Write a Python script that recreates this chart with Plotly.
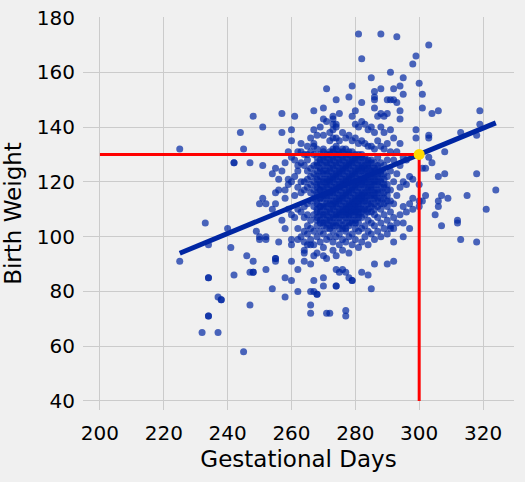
import numpy as np
import plotly.graph_objects as go

outer_points = [
    (225, 132), (225, 91), (233, 105), (234, 97), (234, 85), (234, 85), (234, 71), (234, 71),
    (232, 65), (237, 65), (237, 78), (238, 77), (238, 77), (240, 103), (241, 96), (242, 86),
    (245, 58), (247, 75), (244, 138), (245, 132), (248, 144), (251, 140), (242, 127), (242, 127),
    (247, 127), (251, 126), (246, 93), (248, 91), (247, 87), (248, 87), (248, 87), (252, 88),
    (249, 102), (250, 99), (250, 100), (252, 100), (252, 99), (254, 81), (258, 78), (255, 92),
    (255, 91), (258, 85), (260, 84), (262, 80), (266, 75), (266, 72), (271, 72), (268, 79),
    (267, 80), (251, 114), (250, 112), (252, 112), (255, 112), (254, 110), (255, 116), (256, 117),
    (258, 117), (259, 119), (255, 125), (254, 123), (262, 126), (261, 122),
    (257, 145), (261, 144), (257, 138), (260, 139), (260, 135), (259, 131), (262, 131), (263, 131),
    (267, 146), (271, 154), (274, 150), (270, 143), (273, 143), (273, 141), (274, 140), (273, 139),
    (274, 136), (272, 135), (267, 133), (268, 132), (270, 132), (273, 132), (265, 130), (267, 130),
]

upper_points = [
    (281, 174), (288, 174), (293, 173), (303, 170), (299, 166), (298, 163), (282, 165), (291, 160),
    (285, 158), (295, 158), (300, 156), (279, 155), (294, 155), (292, 154), (286, 153), (286, 151),
    (286, 150), (288, 154), (295, 152), (301, 152), (282, 149), (290, 150), (291, 150),
    (292, 150), (293, 149), (286, 147), (294, 146), (301, 147), (306, 146), (304, 145), (319, 146),
    (288, 145), (290, 145), (289, 144), (280, 146), (294, 143), (319, 141), (318, 137), (313, 138),
    (308, 131), (299, 139), (299, 136), (303, 137), (303, 136), (303, 129), (304, 127),
]

right_points = [
    (318, 123), (324, 117), (321, 110), (318, 98), (313, 99), (312, 106), (312, 105), (315, 115),
    (307, 115), (309, 114), (306, 113), (306, 111), (305, 108), (307, 104), (306, 122), (308, 123),
    (302, 115), (300, 113), (301, 113), (300, 111), (301, 125), (302, 125), (300, 119), (298, 114),
    (297, 103), (295, 100), (292, 103), (291, 103), (295, 105), (292, 98), (292, 91), (290, 90),
    (286, 90), (285, 81), (282, 87), (284, 86), (274, 82), (277, 73), (277, 71), (272, 72),
    (276, 88), (277, 87), (275, 87), (279, 84), (274, 88),
]

lower_points = [
    (260, 91), (262, 88), (264, 94), (264, 91), (266, 90), (266, 80), (267, 84), (268, 79),
    (270, 85), (270, 82), (274, 82), (278, 85), (279, 84), (255, 92), (260, 97), (262, 99),
    (264, 95), (265, 97), (266, 97), (267, 93), (268, 94), (270, 93), (271, 92), (273, 95),
]

# dense middle, one column of weights per gestational day
core_columns = [
    (256, [98, 121]),
    (257, [106, 124]),
    (258, [103, 114, 127]),
    (259, [110, 121]),
    (260, [99, 108, 120, 129]),
    (261, [107, 115, 128]),
    (262, [103, 110, 118, 124]),
    (263, [100, 109, 116, 120, 127, 134]),
    (264, [98, 102, 107, 111, 117, 120, 126, 130]),
    (265, [101, 104, 108, 112, 118, 121, 124, 128, 133]),
    (266, [99, 103, 106, 113, 116, 119, 122, 125, 131, 136]),
    (267, [97, 102, 108, 111, 114, 117, 120, 123, 126, 134, 139]),
    (268, [100, 104, 107, 110, 113, 116, 118, 121, 124, 127, 137]),
    (269, [98, 102, 106, 109, 111, 114, 117, 119, 122, 125, 128, 140]),
    (270, [96, 101, 105, 108, 110, 112, 115, 118, 120, 123, 126, 129, 137, 147]),
    (271, [99, 103, 106, 109, 112, 114, 116, 119, 121, 124, 127, 130, 142]),
    (272, [100, 104, 107, 110, 113, 115, 117, 120, 122, 125, 128, 131, 138]),
    (273, [98, 102, 105, 108, 111, 113, 116, 118, 121, 123, 126, 129, 136, 144]),
    (274, [93, 100, 104, 107, 109, 112, 114, 117, 119, 122, 124, 127, 130, 133, 141]),
    (275, [97, 101, 105, 108, 110, 113, 115, 118, 120, 123, 125, 128, 131, 135, 145]),
    (276, [95, 99, 103, 106, 109, 111, 114, 116, 119, 121, 124, 126, 129, 132, 138]),
    (277, [98, 102, 105, 108, 110, 112, 115, 117, 120, 122, 125, 127, 130, 136]),
    (278, [94, 100, 104, 107, 109, 111, 113, 116, 118, 121, 123, 126, 128, 131, 137, 151]),
    (279, [97, 101, 105, 108, 110, 112, 114, 117, 119, 122, 124, 127, 129, 135, 144]),
    (280, [99, 103, 106, 109, 111, 113, 115, 118, 120, 123, 125, 128, 130, 136, 141]),
    (281, [96, 102, 105, 108, 110, 112, 114, 116, 119, 121, 124, 126, 129, 134, 140]),
    (282, [98, 103, 107, 110, 113, 115, 117, 120, 122, 125, 127, 130, 135, 142]),
    (283, [100, 104, 108, 111, 114, 116, 119, 121, 124, 126, 129, 134, 141]),
    (284, [97, 102, 106, 110, 113, 116, 118, 121, 123, 126, 128, 133, 139]),
    (285, [101, 105, 109, 112, 115, 118, 120, 123, 125, 128, 133, 140]),
    (286, [99, 104, 108, 112, 115, 117, 120, 122, 125, 127, 132, 138]),
    (287, [102, 107, 111, 114, 117, 120, 123, 126, 129, 135, 144]),
    (288, [100, 105, 110, 114, 118, 121, 124, 127, 133, 140]),
    (289, [103, 108, 112, 116, 119, 123, 126, 132, 138]),
    (290, [101, 106, 111, 115, 119, 122, 128, 134]),
    (291, [104, 109, 113, 117, 124, 131, 139]),
    (292, [107, 112, 120, 128, 136]),
    (293, [105, 115, 123, 131]),
    (294, [108, 118, 126, 134]),
    (295, [111, 120, 129]),
    (296, [109, 119, 128]),
    (297, [112, 122]),
    (298, [110, 121]),
]

# second layer of the dense middle, weights between the ones above
core_fill = [
    (268, [106, 109, 112, 115, 119, 122, 126, 129]),
    (269, [105, 108, 111, 114, 117, 120, 124, 127, 130]),
    (270, [104, 107, 111, 114, 117, 121, 124, 128, 131]),
    (271, [105, 108, 111, 115, 118, 120, 123, 126, 129]),
    (272, [103, 106, 109, 112, 116, 119, 121, 124, 127, 130]),
    (273, [104, 107, 110, 112, 115, 117, 120, 122, 125, 128, 131]),
    (274, [105, 108, 111, 113, 116, 118, 121, 123, 126, 129, 132]),
    (275, [103, 107, 109, 112, 114, 117, 119, 122, 124, 127, 130]),
    (276, [104, 108, 110, 113, 115, 118, 120, 123, 125, 128, 131]),
    (277, [103, 107, 109, 111, 114, 116, 119, 121, 124, 126, 129, 132]),
    (278, [105, 108, 110, 112, 115, 117, 120, 122, 125, 127, 130]),
    (279, [106, 109, 111, 113, 116, 118, 121, 123, 126, 128, 131]),
    (280, [105, 108, 110, 112, 114, 117, 119, 122, 124, 127, 129]),
    (281, [107, 109, 111, 113, 115, 118, 120, 123, 125, 128, 130]),
    (282, [109, 112, 114, 116, 119, 121, 124, 126, 129]),
    (283, [110, 113, 115, 118, 120, 123, 125, 128]),
    (284, [109, 112, 115, 117, 120, 122, 125, 127]),
    (285, [111, 114, 117, 119, 122, 124, 127]),
    (286, [110, 114, 116, 119, 121, 124]),
    (287, [113, 116, 119, 122, 125]),
    (288, [112, 116, 120, 123]),
    (289, [114, 118, 121]),
    (290, [113, 117]),
]

fit_slope = 0.481
fit_intercept = -14.3
predict_day = 300

points = outer_points + upper_points + right_points + lower_points
for day, weights in core_columns + core_fill:
    points += [(day, w) for w in weights]
days = np.array([p[0] for p in points])
weights = np.array([p[1] for p in points])

blue = "rgb(0, 38, 163)"
fit_x = np.array([days.min(), days.max()])
fit_y = fit_intercept + fit_slope * fit_x
predicted = fit_intercept + fit_slope * predict_day

fig = go.Figure()
fig.add_trace(go.Scatter(
    x=days, y=weights, mode="markers",
    marker=dict(color=blue, size=7, opacity=0.7, line=dict(width=0)),
))
fig.add_trace(go.Scatter(x=fit_x, y=fit_y, mode="lines", line=dict(color=blue, width=5)))
fig.add_trace(go.Scatter(x=[200, predict_day], y=[predicted, predicted], mode="lines",
                         line=dict(color="red", width=3)))
fig.add_trace(go.Scatter(x=[predict_day, predict_day], y=[40, predicted], mode="lines",
                         line=dict(color="red", width=3)))
fig.add_trace(go.Scatter(x=[predict_day], y=[predicted], mode="markers",
                         marker=dict(color="rgb(255, 217, 0)", size=11, line=dict(width=0))))

fig.update_layout(
    width=525, height=482,
    margin=dict(l=83, r=11, t=17, b=72),
    paper_bgcolor="#f0f0f0", plot_bgcolor="#f0f0f0",
    showlegend=False,
    font=dict(family="DejaVu Sans", size=20, color="black"),
)
fig.update_xaxes(
    range=[194.7, 329.7], tickvals=[200, 220, 240, 260, 280, 300, 320],
    showgrid=True, gridcolor="#cbcbcb", gridwidth=1, zeroline=False,
    ticklabelstandoff=9, automargin=False,
    title=dict(text="Gestational Days", font=dict(size=23), standoff=6),
)
fig.update_yaxes(
    range=[36.7, 180.2], tickvals=[40, 60, 80, 100, 120, 140, 160, 180],
    showgrid=True, gridcolor="#cbcbcb", gridwidth=1, zeroline=False,
    ticklabelstandoff=7, automargin=False,
    title=dict(text="Birth Weight", font=dict(size=23), standoff=8),
)

fig.write_html("out.html", config={"displayModeBar": False},
               post_script="document.body.style.margin='0';")
